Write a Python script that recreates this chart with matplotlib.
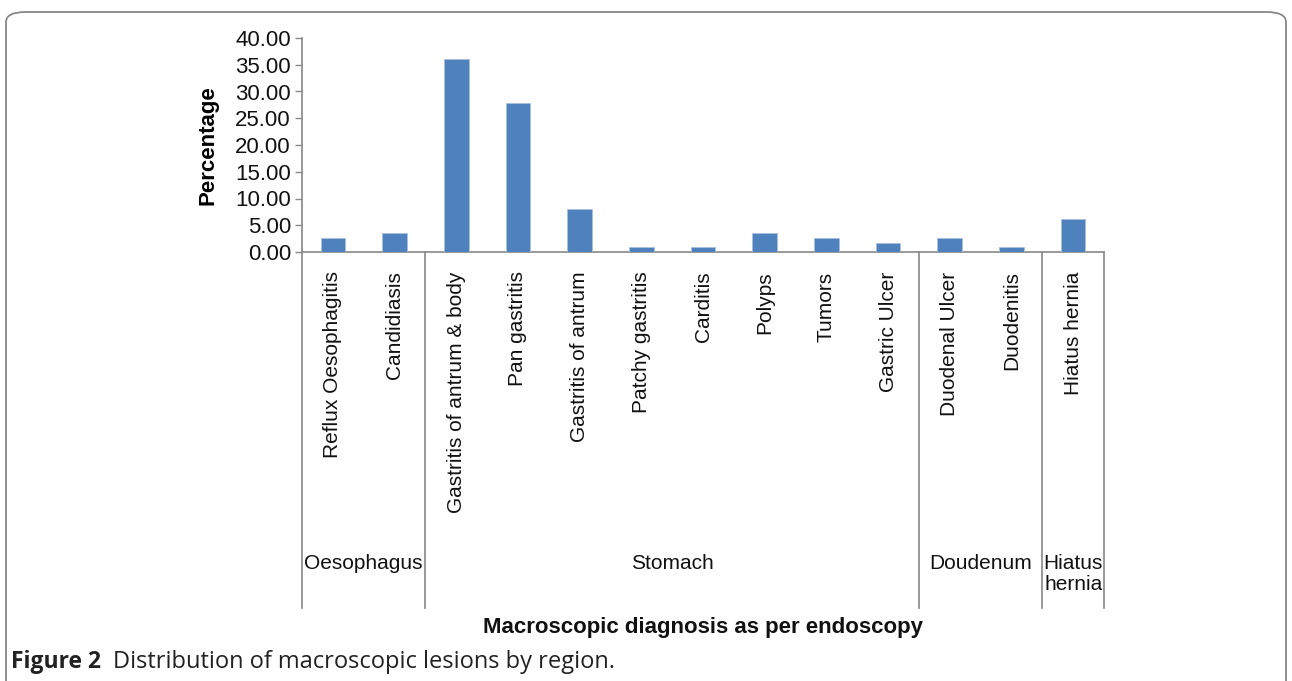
import matplotlib
matplotlib.use("Agg")
import matplotlib.pyplot as plt
from matplotlib.patches import FancyBboxPatch
import matplotlib.transforms as mtransforms

categories = ["Reflux Oesophagitis", "Candidiasis", "Gastritis of antrum & body",
              "Pan gastritis", "Gastritis of antrum", "Patchy gastritis", "Carditis",
              "Polyps", "Tumors", "Gastric Ulcer", "Duodenal Ulcer", "Duodenitis",
              "Hiatus hernia"]
values = [2.65, 3.54, 36.0, 27.9, 7.96, 0.88, 0.88, 3.54, 2.65, 1.77, 2.65, 0.88, 6.19]
groups = ["Oesophagus", "Stomach", "Doudenum", "Hiatus\nhernia"]
group_sizes = [2, 8, 2, 1]
yticks = [0, 5, 10, 15, 20, 25, 30, 35, 40]

plt.rcParams['font.family'] = ['Liberation Sans', 'DejaVu Sans']

W, H = 1292, 681
fig = plt.figure(figsize=(W / 100, H / 100), dpi=100)
ax = fig.add_axes([302 / W, 429 / H, 802 / W, 214 / H])

x = list(range(len(categories)))
ax.bar(x, values, width=0.4, color="#4F81BD", edgecolor="#A9C0DE", linewidth=0.6, zorder=3)
ax.set_xlim(-0.5, len(categories) - 0.5)
ax.set_ylim(0, 40)
ax.set_yticks(yticks)
ax.set_yticklabels([f"{v:.2f}" for v in yticks], fontsize=16, color="#111111")
ax.tick_params(axis='y', length=5, width=1, color="#888888", pad=3)
ax.set_xticks(x)
ax.set_xticklabels(categories, rotation=90, fontsize=15, va='top', ha='center', color="#111111")
ax.tick_params(axis='x', length=0, pad=14)

for s in ["top", "right"]:
    ax.spines[s].set_visible(False)
for s in ["left", "bottom"]:
    ax.spines[s].set_color("#888888")
    ax.spines[s].set_linewidth(1.2)

# group separators
trans = mtransforms.blended_transform_factory(ax.transData, ax.transAxes)
bottom_y = -(608 - 252) / 214
label_y = -(554 - 252) / 214
pos = -0.5
bounds = [pos]
for gs in group_sizes:
    pos += gs
    bounds.append(pos)
for b in bounds:
    ax.plot([b, b], [0, bottom_y], transform=trans, color="#888888", lw=1.2, clip_on=False)
for i, g in enumerate(groups):
    cx = (bounds[i] + bounds[i + 1]) / 2
    ax.text(cx, label_y, g, transform=trans, ha='center', va='top', fontsize=15,
            color="#111111", linespacing=1.15)

ax.set_ylabel("Percentage", fontsize=16, fontweight='bold')
ax.yaxis.set_label_coords(-(302 - 219) / 802, 0.5)
fig.text(703 / W, 1 - 628 / H, "Macroscopic diagnosis as per endoscopy", ha='center',
         va='center', fontsize=16, fontweight='bold', color="#111111")

# caption
fig.text(11 / W, 1 - 662 / H, "Figure 2", ha='left', va='center', fontsize=16.5,
         fontweight='bold', family=['Open Sans', 'DejaVu Sans'], color="#222222")
fig.text(113 / W, 1 - 662 / H, "Distribution of macroscopic lesions by region.", ha='left',
         va='center', fontsize=17, family=['Open Sans', 'DejaVu Sans'], color="#222222")

# frame
frame = FancyBboxPatch((6 / W, -20 / H), (1280) / W, (H - 12 + 20) / H,
                       boxstyle="round,pad=0,rounding_size=0.015",
                       transform=fig.transFigure, fill=False, edgecolor="#888888",
                       linewidth=1.3, clip_on=False)
fig.patches.append(frame)

fig.savefig("out.png", dpi=100)
